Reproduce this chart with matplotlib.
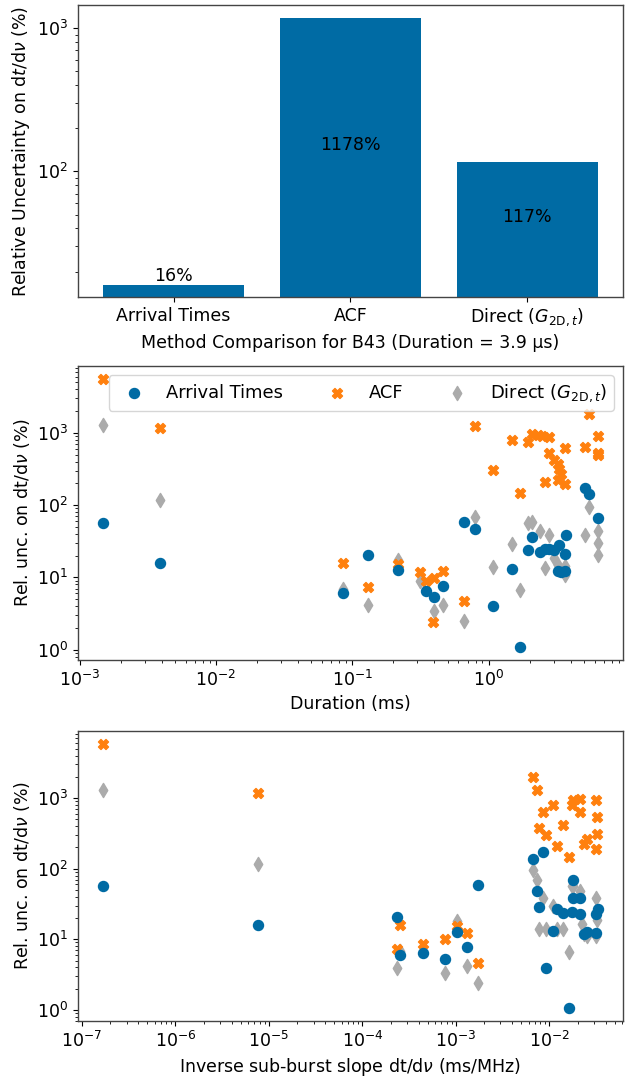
import numpy as np
import matplotlib
matplotlib.use("Agg")
import matplotlib.pyplot as plt

nan = np.nan

# top panel: method comparison for B43
methods = ["Arrival Times", "ACF", r"Direct ($G_{\mathrm{2D},t}$)"]
b43_unc = [16, 1178, 117]

# middle panel: uncertainty vs burst duration (ms)
dur_ms = [0.00148, 0.0039, 0.086, 0.131, 0.218, 0.316, 0.344, 0.394, 0.39, 0.46,
          0.66, 0.79, 1.07, 1.48, 1.69, 1.94, 2.07, 2.3, 2.37, 2.45,
          2.58, 2.76, 2.76, 3.0, 3.2, 3.2, 3.3, 3.4, 3.6, 3.6,
          3.7, 5.08, 5.44, 6.3, 6.3, 6.35]
dur_at = [57, 16, 6.0, 20.5, 12.6, nan, 6.4, 5.3, nan, 7.6,
          59, 47, 4.0, 13.1, 1.1, 24, 36.6, nan, 22.5, nan,
          24.7, 24.7, nan, 24, 12.3, nan, 28, 12.0, 21, 12.3,
          38, 170, 141, 67, nan, nan]
dur_acf = [5500, 1178, 16, 7.3, 15.4, 11.8, 8.9, 9.8, 2.4, 12.3,
           4.7, 1250, 303, 790, 145, 750, 960, 930, nan, 910,
           210, 870, 520, 420, 370, 220, 315, 270, 195, 620,
           nan, 630, 1830, 910, 490, 530]
dur_dir = [1290, 117, 6.9, 4.1, 17.4, 8.9, nan, 3.4, nan, 4.1,
           2.5, 69, 13.9, 29, 6.6, 57, 59, nan, 44, nan,
           13.5, 39, nan, 18.6, 15, nan, nan, nan, 14.4, 10.7,
           nan, 39, 93, 44, 30, 20.5]

# bottom panel: uncertainty vs inverse sub-burst slope (ms/MHz)
slope = [1.67e-7, 7.7e-6, 2.32e-4, 2.5e-4, 4.4e-4, 7.6e-4, 1.04e-3, 1.33e-3, 1.74e-3,
         6.75e-3, 7.45e-3, 7.8e-3, 8.6e-3, 9.1e-3, 0.011, 0.0122, 0.0141, 0.0164,
         0.0176, 0.018, 0.018, 0.0214, 0.0214, 0.0224, 0.0237, 0.0255,
         0.0318, 0.0318, 0.0326, 0.0326, 0.0333]
sl_at = [57, 16, 20.5, 5.9, 6.3, 5.2, 12.6, 7.7, 59,
         138, 48, 28.5, 174, 3.9, 13, 26.5, 23.4, 1.07,
         24.6, 68, 38, 38, 22.5, nan, 11.8, 12.6,
         12.1, 22.5, nan, nan, 26.5]
sl_acf = [5800, 1178, 7.2, 15.8, 8.5, 10, 15.2, 12.1, 4.6,
          1990, 1290, 380, 630, 300, 800, 210, 415, 148,
          800, 935, nan, 970, 630, nan, 225, 265,
          935, 190, 540, 310, nan]
sl_dir = [1320, 117, 3.9, 6.9, nan, 3.3, 17.9, 4.2, 2.4,
          97, 70, 14.2, 38, 14.2, 30, 13.8, 13.8, 6.6,
          56, 56, nan, 48, nan, 16.7, 11.8, 11,
          38, 11, 19, nan, nan]

C_AT, C_ACF, C_DIR = "#006BA4", "#FF800E", "#ABABAB"
FS = 12.5

plt.rcParams["font.size"] = FS
plt.rcParams["axes.edgecolor"] = "#444444"
plt.rcParams["axes.linewidth"] = 1.0

fig = plt.figure(figsize=(6.31, 10.78), dpi=100)
ax1 = fig.add_axes([0.1236, 0.7245, 0.8637, 0.2709])
ax2 = fig.add_axes([0.1236, 0.3878, 0.8637, 0.2727])
ax3 = fig.add_axes([0.1236, 0.0529, 0.8637, 0.2690])

# top bar chart
x = np.arange(len(methods))
ax1.bar(x, b43_unc, color=C_AT, width=0.8)
ax1.set_yscale("log")
ax1.set_ylim(13.3, 1450)
ax1.set_xticks(x)
ax1.set_xticklabels(methods)
for xi, h in zip(x, b43_unc):
    if h > 50:
        ax1.text(xi, np.sqrt(h * 20), f"{h}%", ha="center", va="center", fontsize=FS)
    else:
        ax1.text(xi, h, f"{h}%", ha="center", va="bottom", fontsize=FS)
ax1.set_ylabel(r"Relative Uncertainty on d$t$/d$\nu$ (%)")
ax1.set_xlabel("Method Comparison for B43 (Duration = 3.9 μs)")


def scatter_panel(ax, xs, at, acf, direct):
    ax.scatter(xs, direct, marker="d", s=52, color=C_DIR, zorder=2, label=r"Direct ($G_{\mathrm{2D},t}$)")
    ax.scatter(xs, acf, marker="X", s=52, color=C_ACF, zorder=3, label="ACF")
    ax.scatter(xs, at, marker="o", s=52, color=C_AT, zorder=4, label="Arrival Times")
    ax.set_xscale("log")
    ax.set_yscale("log")
    ax.set_ylabel(r"Rel. unc. on dt/d$\nu$ (%)")


scatter_panel(ax2, dur_ms, dur_at, dur_acf, dur_dir)
ax2.set_xlabel("Duration (ms)")
h, l = ax2.get_legend_handles_labels()
ax2.legend(h[::-1], l[::-1], ncol=3, loc="upper right", fontsize=12.9)

scatter_panel(ax3, slope, sl_at, sl_acf, sl_dir)
ax3.set_xlabel(r"Inverse sub-burst slope dt/d$\nu$ (ms/MHz)")

fig.savefig("out.png", dpi=100)
